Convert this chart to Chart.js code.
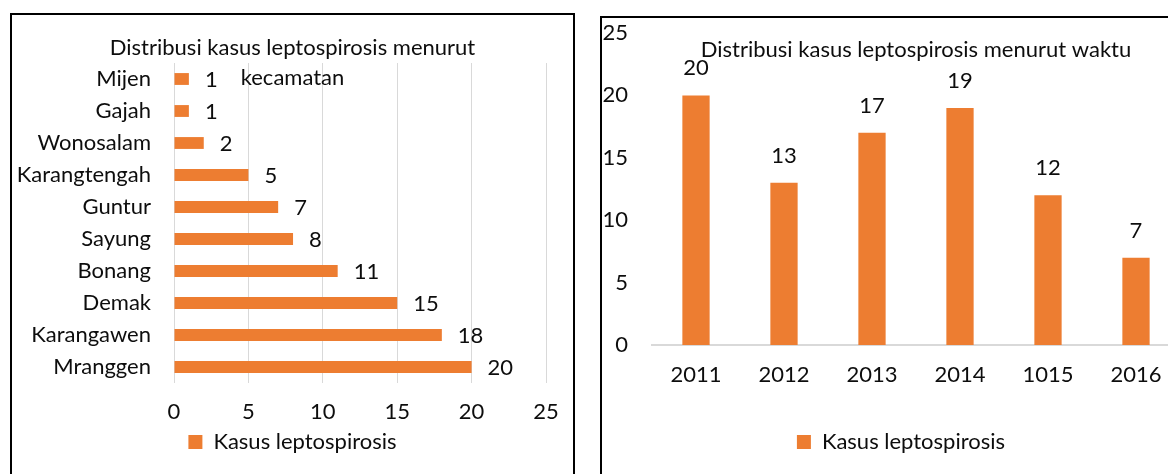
<!DOCTYPE html>
<html>
<head>
<meta charset="utf-8">
<script src="https://cdn.jsdelivr.net/npm/chart.js@4.4.1/dist/chart.umd.min.js"></script>
<style>
html,body{margin:0;padding:0;background:#fff;overflow:hidden;width:1168px;height:474px;}
.box{position:absolute;border:2px solid #000;box-sizing:border-box;}
#b1{left:10px;top:13px;width:565px;height:520px;}
#b2{left:600px;top:16px;width:640px;height:520px;}
canvas{position:absolute;}
#c1{left:12px;top:15px;}
#c2{left:602px;top:18px;}
</style>
</head>
<body>
<div class="box" id="b1"></div>
<div class="box" id="b2"></div>
<canvas id="c1" width="561" height="459"></canvas>
<canvas id="c2" width="598" height="456"></canvas>
<script>
// ---- data ----
const districts = ['Mijen','Gajah','Wonosalam','Karangtengah','Guntur','Sayung','Bonang','Demak','Karangawen','Mranggen'];
const districtCases = [1,1,2,5,7,8,11,15,18,20];
const years = ['2011','2012','2013','2014','1015','2016'];
const yearCases = [20,13,17,19,12,7];
const seriesName = 'Kasus leptospirosis';
const titleDistrict = ['Distribusi kasus leptospirosis menurut','kecamatan'];
const titleTime = 'Distribusi kasus leptospirosis menurut waktu';
const axisMin = 0, axisMax = 25, axisStep = 5;

// ---- styles ----
const FONT = 'Lato, Carlito, Calibri, "Open Sans", sans-serif';
const ORANGE = '#ED7D31';
const TEXT = '#0d0d0d';
const GRID = '#d9d9d9';

const valueLabels = {
  id: 'valueLabels',
  afterDatasetsDraw(chart, args, opts) {
    const ctx = chart.ctx;
    const meta = chart.getDatasetMeta(0);
    const data = chart.data.datasets[0].data;
    ctx.save();
    ctx.font = opts.size + 'px ' + FONT;
    ctx.fillStyle = TEXT;
    ctx.textBaseline = 'middle';
    meta.data.forEach((bar, i) => {
      const v = String(data[i]);
      if (opts.horizontal) {
        ctx.textAlign = 'left';
        ctx.fillText(v, bar.x + opts.offset, bar.y + (opts.dy || 0));
      } else {
        ctx.textAlign = 'center';
        ctx.fillText(v, bar.x, bar.y - opts.offset);
      }
    });
    ctx.restore();
  }
};

const legendCfg = {
  position: 'bottom',
  labels: {
    color: TEXT,
    font: {family: FONT, size: 22},
    boxWidth: 14,
    boxHeight: 14,
    padding: 10
  }
};

// ---- chart 1: by district (horizontal bars) ----
new Chart(document.getElementById('c1'), {
  type: 'bar',
  data: {
    labels: districts,
    datasets: [{
      label: seriesName,
      data: districtCases,
      backgroundColor: ORANGE,
      borderWidth: 0,
      categoryPercentage: 1,
      barPercentage: 0.37
    }]
  },
  plugins: [valueLabels],
  options: {
    indexAxis: 'y',
    responsive: false,
    animation: false,
    events: [],
    layout: {padding: {top: 0, left: 0, right: 0, bottom: 11}},
    scales: {
      x: {
        type: 'linear',
        min: axisMin, max: axisMax,
        ticks: {stepSize: axisStep, color: TEXT, font: {family: FONT, size: 22}, padding: 16},
        grid: {color: GRID, lineWidth: 1, drawTicks: false},
        border: {display: false},
        afterFit(s) { s.height = 38; s.paddingLeft = 0; s.paddingRight = 27; }
      },
      y: {
        ticks: {color: TEXT, font: {family: FONT, size: 22}, padding: 23, autoSkip: false},
        grid: {display: false, drawTicks: false},
        border: {display: false},
        afterFit(s) { s.width = 162; s.paddingTop = 0; s.paddingBottom = 0; }
      }
    },
    plugins: {
      title: {
        display: true,
        text: titleDistrict,
        color: TEXT,
        font: {family: FONT, size: 22, weight: 'normal', lineHeight: 30/22},
        padding: {top: 18, bottom: -30}
      },
      legend: legendCfg,
      tooltip: {enabled: false},
      valueLabels: {horizontal: true, offset: 16, dy: 1, size: 22}
    }
  }
});

// ---- chart 2: by year (vertical bars) ----
new Chart(document.getElementById('c2'), {
  type: 'bar',
  data: {
    labels: years,
    datasets: [{
      label: seriesName,
      data: yearCases,
      backgroundColor: ORANGE,
      borderWidth: 0,
      categoryPercentage: 1,
      barPercentage: 0.31
    }]
  },
  plugins: [valueLabels],
  options: {
    responsive: false,
    animation: false,
    events: [],
    layout: {padding: {top: 0, left: 0, right: 0, bottom: 11}},
    scales: {
      x: {
        ticks: {color: TEXT, font: {family: FONT, size: 22}, padding: 17, autoSkip: false, maxRotation: 0},
        grid: {display: false, drawTicks: false},
        border: {display: true, color: GRID, width: 2},
        afterFit(s) { s.height = 76; s.paddingLeft = 0; s.paddingRight = 20; }
      },
      y: {
        type: 'linear',
        min: axisMin, max: axisMax,
        ticks: {stepSize: axisStep, color: TEXT, font: {family: FONT, size: 22}, padding: 24},
        grid: {display: false, drawTicks: false},
        border: {display: false},
        afterFit(s) { s.width = 50; s.paddingTop = 0; s.paddingBottom = 0; }
      }
    },
    plugins: {
      title: {
        display: true,
        fullSize: false,
        text: titleTime,
        color: TEXT,
        font: {family: FONT, size: 22, weight: 'normal', lineHeight: 30/22},
        padding: {top: 17, bottom: -32}
      },
      legend: legendCfg,
      tooltip: {enabled: false},
      valueLabels: {horizontal: false, offset: 27, size: 22}
    }
  }
});
</script>
</body>
</html>
